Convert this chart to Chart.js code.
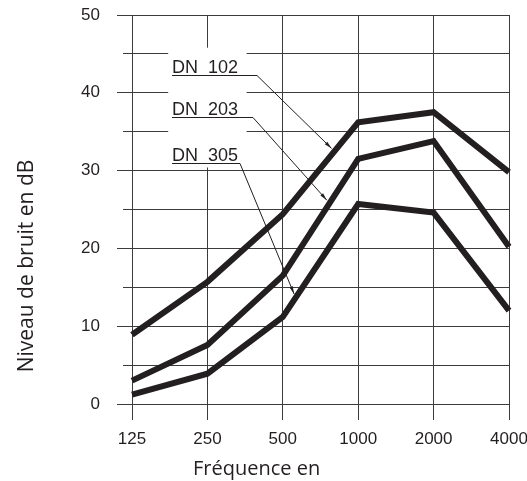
<!DOCTYPE html>
<html lang="fr">
  <head>
    <meta charset="UTF-8" />
    <title>Niveau de bruit</title>
    <script src="https://cdn.jsdelivr.net/npm/chart.js"></script>
    <style>
      body {
        margin: 0;
        background: #ffffff;
      }
      canvas {
        display: block;
      }
    </style>
  </head>
  <body>
    <canvas id="noiseChart" width="527" height="481"></canvas>

    <script>
      // frequencies (Hz) and noise level (dB) per duct size
      var frequencies = ["125", "250", "500", "1000", "2000", "4000"];
      var dn102 = [8.9, 15.7, 24.4, 36.2, 37.5, 29.8];
      var dn203 = [3.0, 7.6, 16.5, 31.5, 33.8, 20.2];
      var dn305 = [1.2, 3.9, 11.2, 25.7, 24.6, 12.0];
      var seriesNames = ["DN  102", "DN  203", "DN  305"];
      var yTicks = [0, 10, 20, 30, 40, 50];

      var ink = "#231f20";
      var gridColor = "#3b3b3b";
      var tickFont = { family: "'Liberation Sans', Arial, sans-serif", size: 17 };

      // leader labels, offsets in px from the plot's top-left corner,
      // "at" = fractional category index where the arrow meets the curve
      var leaders = [
        { row: 60, lineEnd: 125, at: 2.685 },
        { row: 102, lineEnd: 121, at: 2.62 },
        { row: 148, lineEnd: 108, at: 2.17 },
      ];

      function valueAt(values, t) {
        var i = Math.min(Math.floor(t), values.length - 2);
        return values[i] + (values[i + 1] - values[i]) * (t - i);
      }

      var annotations = {
        id: "annotations",
        beforeDatasetsDraw: function (chart) {
          // white box under the labels
          var ctx = chart.ctx;
          var x = chart.scales.x;
          var y = chart.scales.y;
          var x1 = x.getPixelForValue(0.48);
          var x2 = x.getPixelForValue(1.52);
          var y1 = y.getPixelForValue(45.8);
          var y2 = y.getPixelForValue(30.4);
          ctx.save();
          ctx.fillStyle = "#ffffff";
          ctx.fillRect(x1, y1, x2 - x1, y2 - y1);
          ctx.restore();
        },
        afterDatasetsDraw: function (chart) {
          var ctx = chart.ctx;
          var area = chart.chartArea;
          var x = chart.scales.x;
          var y = chart.scales.y;
          ctx.save();
          ctx.fillStyle = ink;
          ctx.strokeStyle = ink;
          ctx.font = "18px 'Liberation Sans', Arial, sans-serif";
          ctx.textAlign = "left";
          ctx.textBaseline = "alphabetic";
          chart.data.datasets.forEach(function (ds, i) {
            var l = leaders[i];
            var lx = area.left + 40;
            var ly = area.top + l.row;
            ctx.fillText(seriesNames[i], lx, ly - 2);
            ctx.lineWidth = 1;
            var ex = area.left + l.lineEnd;
            ctx.beginPath();
            ctx.moveTo(lx, ly + 0.5);
            ctx.lineTo(ex, ly + 0.5);
            // leader towards the curve
            var tx = x.getPixelForValue(l.at);
            var ty = y.getPixelForValue(valueAt(ds.data, l.at));
            var ang = Math.atan2(ty - ly, tx - ex);
            tx -= Math.cos(ang) * 4;
            ty -= Math.sin(ang) * 4;
            ctx.lineTo(tx, ty);
            ctx.stroke();
            // small arrow head
            ctx.beginPath();
            ctx.moveTo(tx, ty);
            ctx.lineTo(tx - 8 * Math.cos(ang - 0.22), ty - 8 * Math.sin(ang - 0.22));
            ctx.lineTo(tx - 8 * Math.cos(ang + 0.22), ty - 8 * Math.sin(ang + 0.22));
            ctx.closePath();
            ctx.fill();
          });

          // axis titles
          ctx.font = "20px 'Open Sans', 'Noto Sans', sans-serif";
          ctx.textAlign = "left";
          ctx.fillText("Fréquence en", area.left + 61, 475);
          ctx.translate(33, 266);
          ctx.rotate(-Math.PI / 2);
          ctx.textAlign = "center";
          ctx.font = "21px 'Open Sans', 'Noto Sans', sans-serif";
          ctx.fillText("Niveau de bruit en dB", 0, 0);
          ctx.restore();
        },
      };

      function makeLine(values) {
        return {
          data: values,
          borderColor: ink,
          borderWidth: 6,
          borderCapStyle: "butt",
          borderJoinStyle: "miter",
          pointRadius: 0,
          tension: 0,
          fill: false,
        };
      }

      new Chart(document.getElementById("noiseChart"), {
        type: "line",
        data: {
          labels: frequencies,
          datasets: [makeLine(dn102), makeLine(dn203), makeLine(dn305)],
        },
        options: {
          responsive: false,
          animation: false,
          layout: { padding: { top: 15, right: 18, left: 0, bottom: 0 } },
          plugins: {
            legend: { display: false },
            tooltip: { enabled: false },
          },
          scales: {
            x: {
              offset: false,
              border: { display: false },
              grid: { color: gridColor, lineWidth: 1, tickLength: 16 },
              ticks: { color: ink, font: tickFont, padding: 9, maxRotation: 0 },
              afterFit: function (s) {
                s.height = 77;
                s.paddingLeft = 0;
                s.paddingRight = 0;
              },
            },
            y: {
              position: "left",
              weight: 1,
              min: 0,
              max: 50,
              border: { display: false },
              grid: { color: gridColor, lineWidth: 1, tickLength: 15 },
              afterBuildTicks: function (s) {
                s.ticks = yTicks.map(function (v) {
                  return { value: v };
                });
              },
              ticks: { color: ink, font: tickFont, padding: 17 },
              afterFit: function (s) {
                s.width = 132;
                s.paddingTop = 0;
                s.paddingBottom = 0;
              },
            },
            yMinor: {
              position: "left",
              weight: 0,
              min: 0,
              max: 50,
              border: { display: false },
              grid: { color: gridColor, lineWidth: 1, tickLength: 9 },
              ticks: { display: false, stepSize: 5 },
              afterFit: function (s) {
                s.width = 0;
                s.paddingTop = 0;
                s.paddingBottom = 0;
              },
            },
          },
        },
        plugins: [annotations],
      });
    </script>
  </body>
</html>
